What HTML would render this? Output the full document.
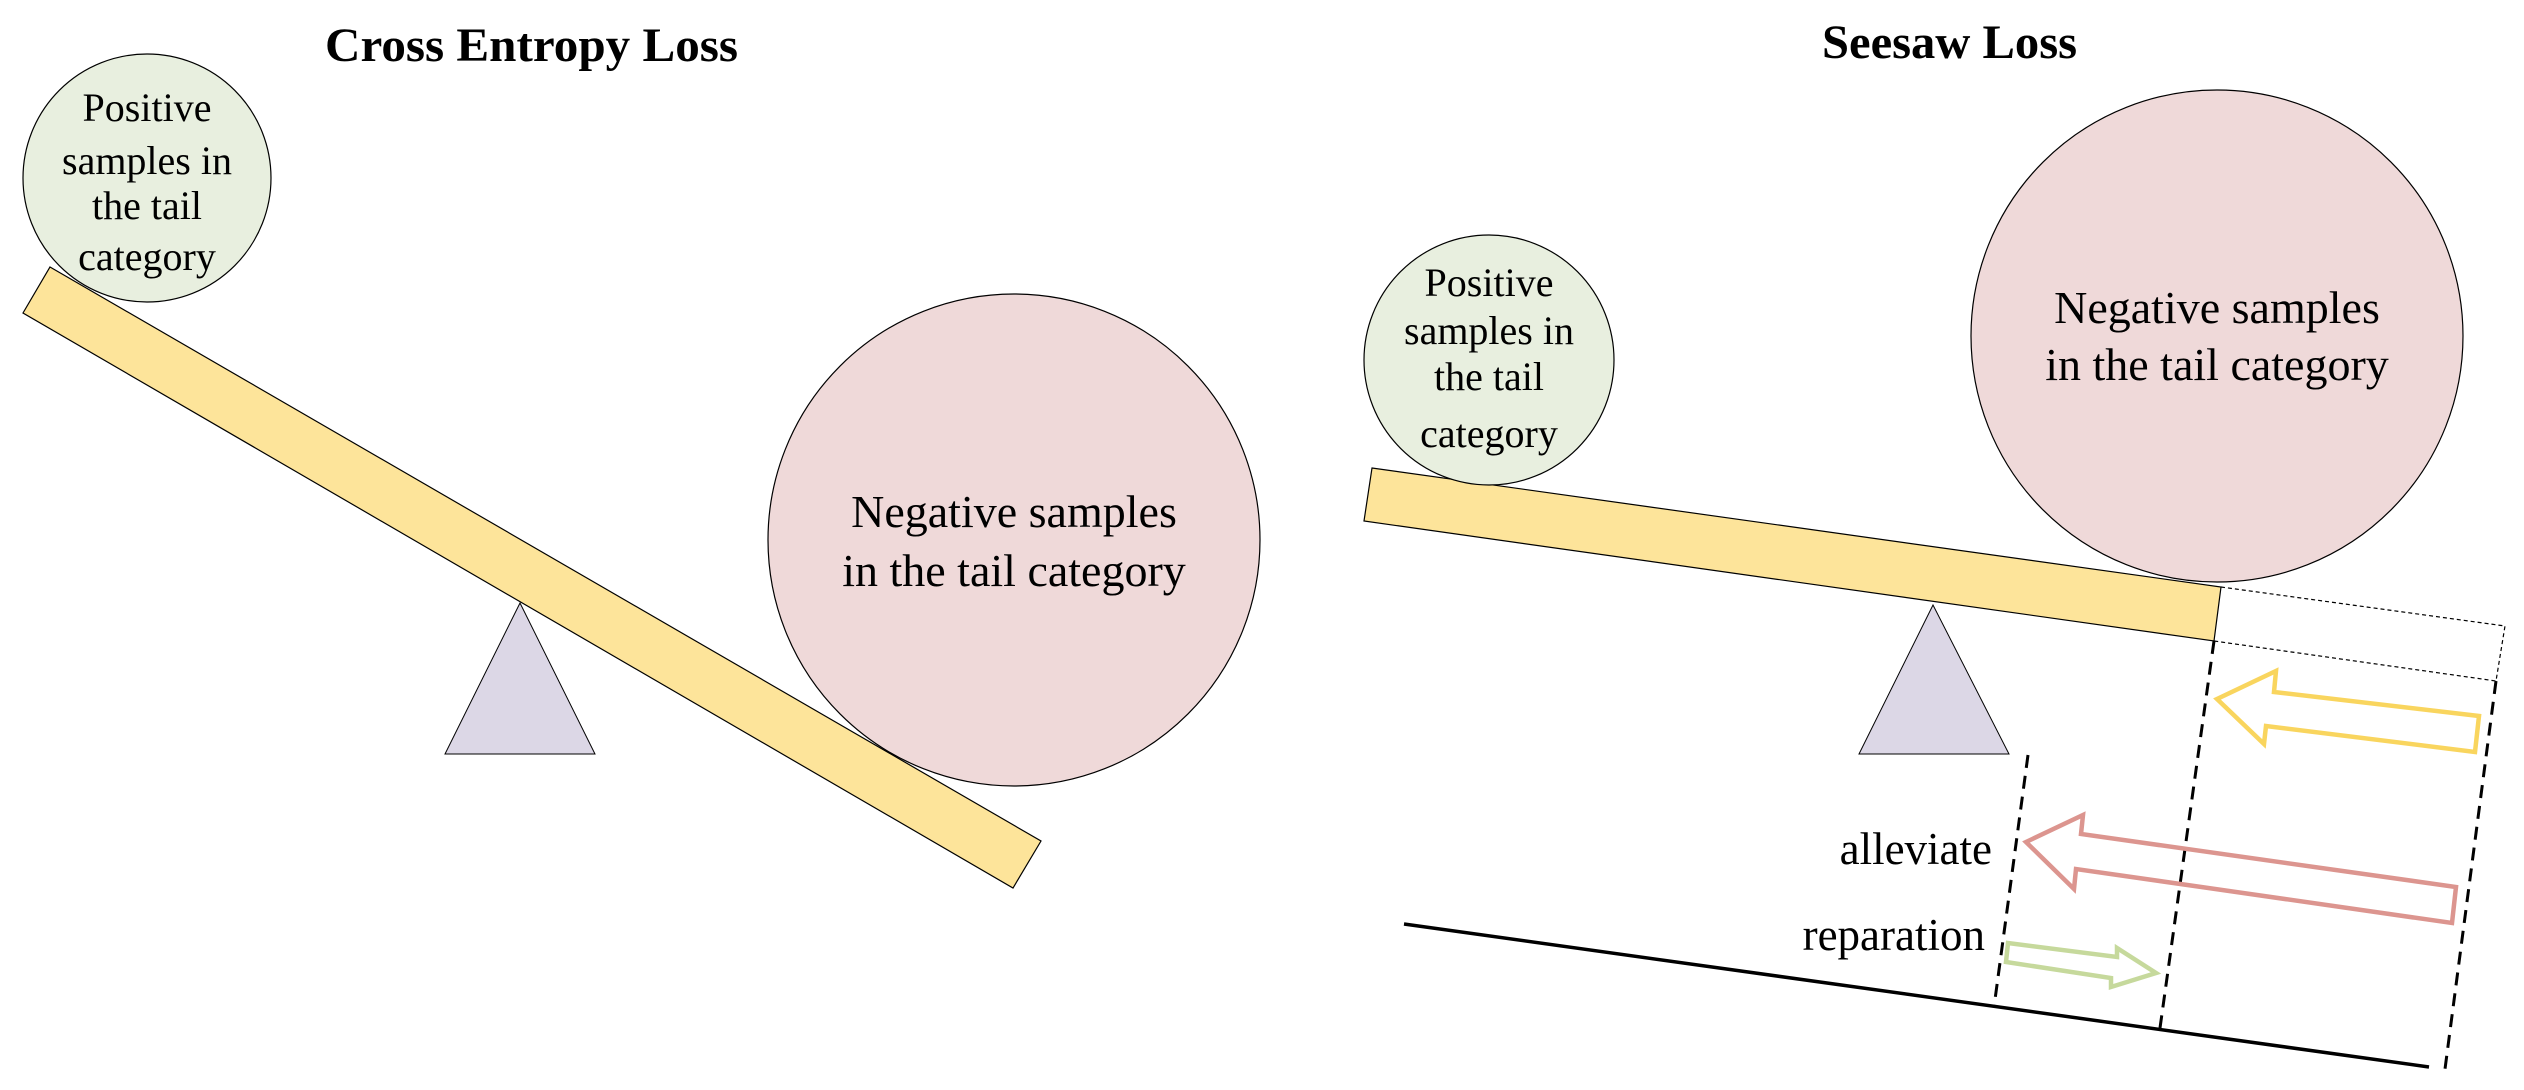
<!DOCTYPE html>
<html><head><meta charset="utf-8"><style>
html,body{margin:0;padding:0;background:#fff;}
svg{display:block;}
text{font-family:"Liberation Serif",serif;fill:#000;}
</style></head><body>
<svg width="2524" height="1090" viewBox="0 0 2524 1090" xmlns="http://www.w3.org/2000/svg">
<!-- Left: Cross Entropy -->
<text x="325" y="61" font-size="48" font-weight="bold" textLength="413" lengthAdjust="spacingAndGlyphs">Cross Entropy Loss</text>
<polygon points="50,267 1041,841 1013,888 23,313" fill="#fde49a" stroke="#000" stroke-width="1.2"/>
<polygon points="520,603 595,754 445,754" fill="#dcd7e6" stroke="#000" stroke-width="1"/>
<circle cx="147" cy="178" r="124" fill="#e8efdf" stroke="#000" stroke-width="1.2"/>
<g font-size="40" text-anchor="middle">
<text x="147" y="121">Positive</text>
<text x="147" y="174">samples in</text>
<text x="147" y="219">the tail</text>
<text x="147" y="270">category</text>
</g>
<circle cx="1014" cy="540" r="246" fill="#efd9d9" stroke="#000" stroke-width="1.2"/>
<g font-size="46" text-anchor="middle">
<text x="1014" y="527">Negative samples</text>
<text x="1014" y="586">in the tail category</text>
</g>

<!-- Right: Seesaw -->
<text x="1822" y="58" font-size="48" font-weight="bold" textLength="255" lengthAdjust="spacingAndGlyphs">Seesaw Loss</text>
<polygon points="1372,468 2221,587 2214,641 1364,521" fill="#fde49a" stroke="#000" stroke-width="1.2"/>
<polyline points="2221,587 2505,626 2496,681 2214,641" fill="none" stroke="#000" stroke-width="1.2" stroke-dasharray="4,3"/>
<polygon points="1933,605 2009,754 1859,754" fill="#dcd7e6" stroke="#000" stroke-width="1"/>
<circle cx="1489" cy="360" r="125" fill="#e8efdf" stroke="#000" stroke-width="1.2"/>
<g font-size="40" text-anchor="middle">
<text x="1489" y="296">Positive</text>
<text x="1489" y="344">samples in</text>
<text x="1489" y="390">the tail</text>
<text x="1489" y="447">category</text>
</g>
<circle cx="2217" cy="336" r="246" fill="#efd9d9" stroke="#000" stroke-width="1.2"/>
<g font-size="46" text-anchor="middle">
<text x="2217" y="323">Negative samples</text>
<text x="2217" y="380">in the tail category</text>
</g>
<!-- ground & dashed -->
<line x1="1404" y1="924" x2="2429" y2="1067" stroke="#000" stroke-width="3.5"/>
<g stroke="#000" stroke-width="3" stroke-dasharray="13,8" fill="none">
<line x1="2214" y1="641" x2="2160" y2="1028"/>
<line x1="2496" y1="681" x2="2445" y2="1069"/>
<line x1="2028" y1="755" x2="1994" y2="1007"/>
</g>
<!-- arrows -->
<polygon points="2217,699 2276,671 2274,692 2479,716 2475,752 2266,726 2264,744" fill="none" stroke="#f9d55e" stroke-width="4.5" stroke-linejoin="miter"/>
<polygon points="2026,842 2083,815 2081,834 2456,887 2452,923 2076,869 2074,889" fill="none" stroke="#dc958f" stroke-width="4.5"/>
<polygon points="2008,943 2006,962 2111,978 2111,987 2156,973 2117,948 2117,957" fill="none" stroke="#c6d99c" stroke-width="4.5"/>
<g font-size="45" text-anchor="end">
<text x="1992" y="864">alleviate</text>
<text x="1985" y="950">reparation</text>
</g>
</svg>
</body></html>
